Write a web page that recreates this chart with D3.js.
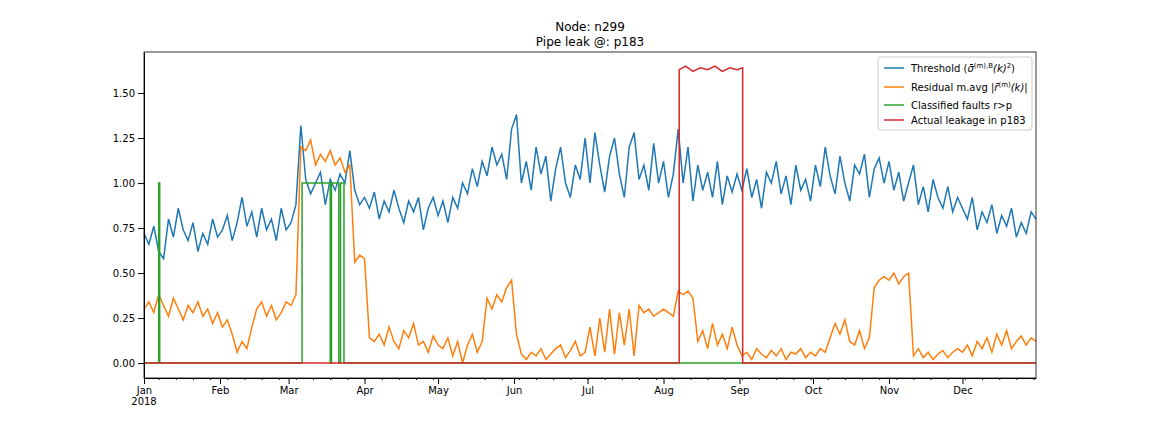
<!DOCTYPE html>
<html><head><meta charset="utf-8">
<script src="https://cdn.jsdelivr.net/npm/d3@7"></script>
<style>
body{margin:0;background:#fff;font-family:"DejaVu Sans",sans-serif;}
.axis text{font-size:10px;font-family:"DejaVu Sans",sans-serif;fill:#000;}
</style></head><body><div id="chart"></div>
<script>
// threshold, every 2 days from Jan 1
const thresholdVals = [
 .72,.66,.76,.62,.58,.80,.70,.86,.74,.68,.78,.62,.72,.66,.80,.70,
 .74,.82,.68,.78,.92,.76,.84,.70,.86,.74,.80,.68,.86,.74,
 .78,.88,1.32,1.02,.94,1.0,1.06,.88,1.02,.96,1.05,1.0,1.18,.96,.88,.92,
 .86,.95,.80,.90,.84,.96,.86,.78,.90,.84,.92,.74,.86,.92,
 .82,.90,.78,.92,.86,1.0,.94,1.08,.98,1.12,1.04,1.2,1.10,1.16,1.02,1.3,
 1.38,1.0,1.12,.96,1.2,1.05,1.15,.9,1.08,1.2,1.0,.92,1.1,1.02,1.25,
 1.0,1.28,1.1,.95,1.15,1.25,1.05,.92,1.2,1.28,1.02,1.1,.96,1.22,1.0,
 1.12,.92,1.05,1.3,1.0,1.2,.9,1.1,.96,1.06,.92,1.12,.88,1.04,.95,1.05,
 .96,1.08,.92,1.02,.86,1.06,1.0,1.12,.94,1.04,.88,1.1,.96,1.02,.9,
 1.1,.98,1.2,1.04,.94,1.15,1.0,.9,1.1,1.05,1.16,.92,1.08,1.14,1.0,
 1.12,.96,1.06,.9,1.0,1.1,.88,.98,.84,1.02,.92,.86,.98,.84,.92,
 .86,.80,.92,.74,.84,.78,.88,.72,.82,.76,.86,.70,.78,.72,.84,.80];
// residual moving average, every 2 days from Jan 1
const residualVals = [
 .30,.34,.28,.38,.32,.26,.36,.30,.24,.32,.28,.34,.26,.30,.22,.28,
 .20,.24,.16,.06,.12,.08,.20,.30,.34,.26,.32,.24,.28,.34,
 .32,.38,1.2,1.18,1.24,1.1,1.16,1.12,1.18,1.1,1.14,1.06,1.1,.56,.60,.58,
 .14,.12,.16,.10,.20,.12,.08,.18,.14,.22,.10,.12,.06,.15,
 .10,.08,.14,.04,.12,.0,.10,.16,.06,.12,.36,.30,.38,.34,.42,.46,
 .16,.05,.02,.06,.04,.08,.02,.05,.08,.10,.03,.07,.12,.04,.06,
 .20,.04,.25,.06,.30,.05,.28,.10,.30,.04,.32,.28,.30,.26,.28,
 .30,.28,.26,.40,.38,.40,.36,.12,.18,.08,.22,.10,.16,.08,.20,.10,
 .04,.06,.02,.08,.05,.03,.07,.04,.08,.02,.06,.05,.08,.03,.06,
 .04,.08,.06,.14,.22,.16,.24,.12,.10,.18,.08,.14,.42,.46,.48,
 .46,.50,.44,.48,.50,.04,.08,.03,.06,.02,.05,.07,.03,.06,.08,
 .06,.10,.04,.12,.08,.14,.06,.16,.10,.18,.08,.12,.15,.10,.14,.12];
// classified faults [day, value]
const faultPts = [[0,0],[6,0],[6,1],[6.4,1],[6.4,0],[64.5,0],[64.5,1],[76,1],[76,0],[76.5,0],[76.5,1],[79.5,1],[79.5,0],[80.2,0],[80.2,1],[81.6,1],[81.6,0],[364,0]];
// actual leakage [day, value]
const leakPts = [[0,0],[218.4,0],[218.4,1.63],[221,1.65],[224,1.62],[227,1.64],[230,1.63],[233,1.65],[236,1.62],[239,1.64],[242,1.63],[244.3,1.64],[244.3,0],[364,0]];

const W=1152,H=432, L=144,R=1036,T=52,B=378;
const day0 = new Date(2018,0,1);
const dd = d => new Date(day0.getTime()+d*864e5);
const x = d3.scaleTime().domain([day0, dd(364)]).range([L,R]);
const y = d3.scaleLinear().domain([-0.083,1.728]).range([B,T]);
const svg = d3.select("#chart").append("svg").attr("width",W).attr("height",H);

const line = d3.line().x(p=>x(dd(p[0]))).y(p=>y(p[1]));
const series = [
 {pts: thresholdVals.map((v,i)=>[i*2,v]), c:"#1f77b4"},
 {pts: residualVals.map((v,i)=>[i*2,v]), c:"#ff7f0e"},
 {pts: faultPts, c:"#2ca02c"},
 {pts: leakPts, c:"#d62728"}];
series.forEach(s=>svg.append("path").attr("d",line(s.pts)).attr("fill","none").attr("stroke",s.c).attr("stroke-width",1.5));

const xa = svg.append("g").attr("class","axis").attr("transform",`translate(0,${B})`)
 .call(d3.axisBottom(x).ticks(d3.timeMonth.every(1)).tickFormat(d3.timeFormat("%b")).tickSizeOuter(0));
xa.append("text").attr("x",x(day0)).attr("y",27).attr("text-anchor","middle").text("2018");
svg.append("g").attr("transform",`translate(0,${B})`)
 .call(d3.axisBottom(x).ticks(d3.timeWeek.every(1)).tickFormat("").tickSize(2).tickSizeOuter(0))
 .select(".domain").remove();
svg.append("g").attr("class","axis").attr("transform",`translate(${L},0)`)
 .call(d3.axisLeft(y).tickValues([0,.25,.5,.75,1,1.25,1.5]).tickFormat(d3.format(".2f")).tickSizeOuter(0));
svg.append("rect").attr("x",L).attr("y",T).attr("width",R-L).attr("height",B-T).attr("fill","none").attr("stroke","#000").attr("stroke-width",0.8);

svg.append("text").attr("x",590).attr("y",31).attr("text-anchor","middle").attr("font-size",12).text("Node: n299");
svg.append("text").attr("x",590).attr("y",46).attr("text-anchor","middle").attr("font-size",12).text("Pipe leak @: p183");

const lg = svg.append("g").attr("font-size",10);
lg.append("rect").attr("x",878).attr("y",57).attr("width",154).attr("height",73).attr("rx",2).attr("fill","#fff").attr("stroke","#ccc");
const rows=[68,87,105,120];
series.forEach((s,i)=>lg.append("line").attr("x1",884).attr("x2",904).attr("y1",rows[i]).attr("y2",rows[i]).attr("stroke",s.c).attr("stroke-width",1.5));
let t=lg.append("text").attr("x",911).attr("y",rows[0]+4);
t.append("tspan").text("Threshold (");
t.append("tspan").attr("font-style","italic").text("σ̄");
t.append("tspan").attr("font-size",7).attr("dy",-4).text("(m),B");
t.append("tspan").attr("dy",4).attr("font-style","italic").text("(k)");
t.append("tspan").attr("font-size",7).attr("dy",-4).text("2");
t.append("tspan").attr("dy",4).text(")");
t=lg.append("text").attr("x",911).attr("y",rows[1]+4);
t.append("tspan").text("Residual m.avg |");
t.append("tspan").attr("font-style","italic").text("r̄");
t.append("tspan").attr("font-size",7).attr("dy",-4).text("(m)");
t.append("tspan").attr("dy",4).attr("font-style","italic").text("(k)");
t.append("tspan").text("|");
lg.append("text").attr("x",911).attr("y",rows[2]+4).text("Classified faults r>p");
lg.append("text").attr("x",911).attr("y",rows[3]+4).text("Actual leakage in p183");
</script></body></html>
